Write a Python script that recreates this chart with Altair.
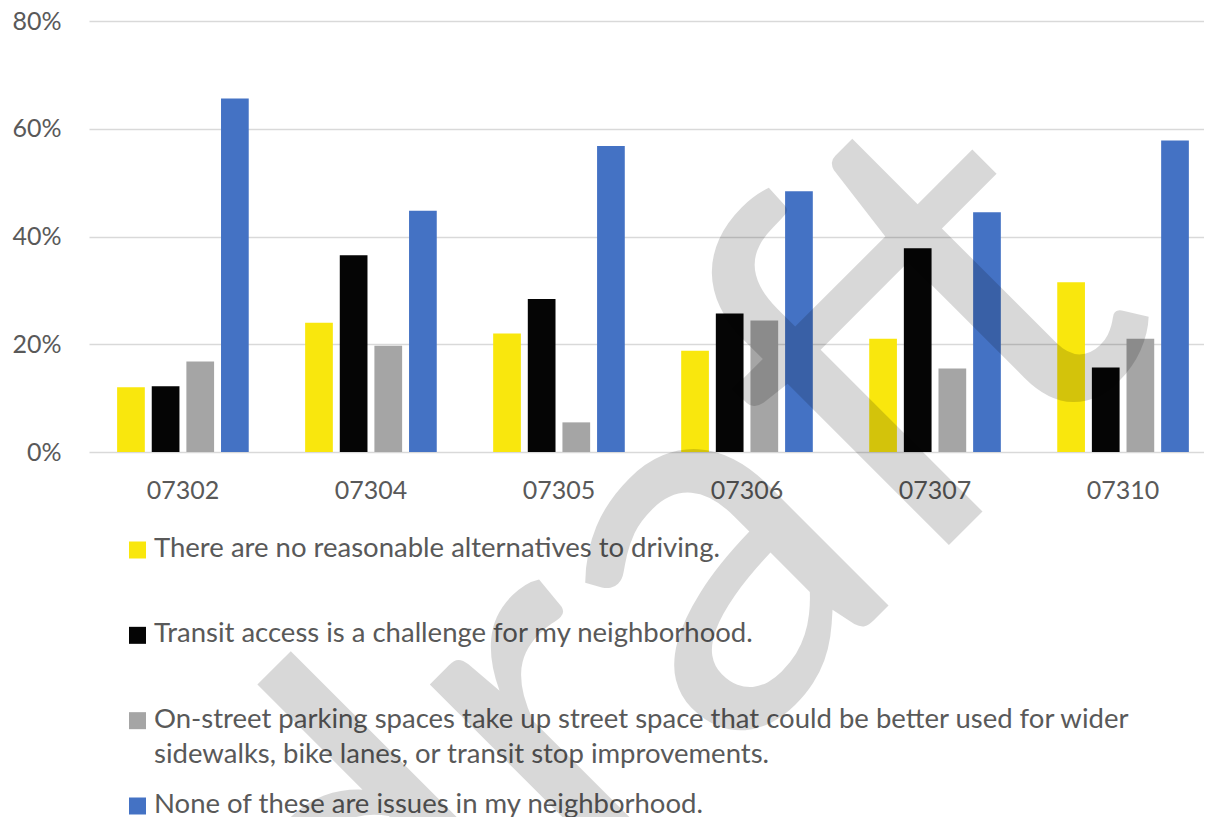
import altair as alt
import pandas as pd

zips = ["07302", "07304", "07305", "07306", "07307", "07310"]
series = [
    "There are no reasonable alternatives to driving.",
    "Transit access is a challenge for my neighborhood.",
    "On-street parking spaces take up street space that could be better used for wider sidewalks, bike lanes, or transit stop improvements.",
    "None of these are issues in my neighborhood.",
]
legend_lines = [
    "There are no reasonable alternatives to driving.",
    "Transit access is a challenge for my neighborhood.",
    "On-street parking spaces take up street space that could be better used for wider\nsidewalks, bike lanes, or transit stop improvements.",
    "None of these are issues in my neighborhood.",
]
no_alternatives = [0.120, 0.240, 0.220, 0.188, 0.210, 0.315]
transit_challenge = [0.122, 0.365, 0.284, 0.257, 0.378, 0.157]
parking_space = [0.168, 0.197, 0.055, 0.244, 0.155, 0.210]
no_issues = [0.656, 0.448, 0.568, 0.484, 0.445, 0.578]
colors = ["#F9E70D", "#050505", "#A5A5A5", "#4472C4"]
y_ticks = [0, 0.2, 0.4, 0.6, 0.8]
watermark = ["draft"]

values = [no_alternatives, transit_challenge, parking_space, no_issues]
rows = []
for s, vals in zip(series, values):
    for z, v in zip(zips, vals):
        rows.append({"zip": z, "series": s, "value": v})
df = pd.DataFrame(rows)
legend_df = pd.DataFrame({"series": series, "label": legend_lines})
wm_df = pd.DataFrame({"w": watermark})

FONT = "Lato"
TXT = "#595959"

color_scale = alt.Scale(domain=series, range=colors)

bars = alt.Chart(df).mark_bar().encode(
    x=alt.X("zip:N", sort=zips,
            scale=alt.Scale(paddingInner=0.3, paddingOuter=0.115, align=0.65),
            axis=alt.Axis(title=None, domain=False, ticks=False, labelAngle=0,
                          labelFont=FONT, labelFontSize=25, labelColor=TXT,
                          labelPadding=26)),
    xOffset=alt.XOffset("series:N", sort=series,
                        scale=alt.Scale(paddingInner=0.2, paddingOuter=0)),
    y=alt.Y("value:Q", scale=alt.Scale(domain=[0, 0.8], nice=False),
            axis=alt.Axis(values=y_ticks, format=".0%", title=None,
                          domain=False, ticks=False, grid=True,
                          gridColor="#D9D9D9", gridWidth=1.3,
                          labelFont=FONT, labelFontSize=25, labelColor=TXT,
                          labelPadding=28)),
    color=alt.Color("series:N", sort=series, scale=color_scale, legend=None),
)

leg_y = alt.Y("series:N", sort=series,
              scale=alt.Scale(type="point", range=[529, 785], padding=0),
              axis=None)

leg_sym = alt.Chart(legend_df).mark_square(size=289, opacity=1).encode(
    x=alt.value(48.5),
    y=leg_y,
    color=alt.Color("series:N", sort=series, scale=color_scale, legend=None),
)

leg_txt = alt.Chart(legend_df).mark_text(
    align="left", baseline="top", dy=-15, lineBreak="\n", lineHeight=35,
    font=FONT, fontSize=27.5, color=TXT,
).encode(
    x=alt.value(65),
    y=leg_y,
    text="label:N",
)

wm = alt.Chart(wm_df).mark_text(
    angle=315, fontSize=530, font=FONT, color="black", opacity=0.15,
    align="center", baseline="alphabetic",
).encode(
    x=alt.value(686),
    y=alt.value(698),
    text="w:N",
)

chart = alt.layer(bars, leg_sym, leg_txt, wm).resolve_scale(
    y="independent"
).properties(
    width=1115, height=431,
    autosize=alt.AutoSizeParams(type="none"),
    padding={"left": 81, "top": 13, "right": 0, "bottom": 365},
).configure_view(strokeWidth=0)

chart.save("out.html", embed_options={"renderer": "svg", "actions": False})
